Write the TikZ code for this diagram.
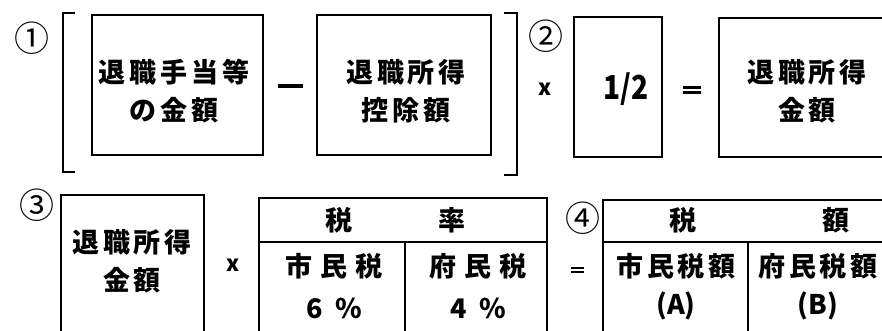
\documentclass[tikz,border=0pt]{standalone}
\usepackage{fontspec}
\setmainfont{Noto Sans CJK JP}
\newfontfamily\jp[LetterSpace=14]{Noto Sans CJK JP}
\newfontfamily\jpw[LetterSpace=30]{Noto Sans CJK JP}
\newfontfamily\jpn{Noto Sans CJK JP}
\tikzset{
  box/.style={draw=black, line width=2.6pt, fill=none, inner sep=0pt},
  lbl/.style={font=\jp\bfseries\fontsize{27}{38}\selectfont, align=center, inner sep=0pt, text=black},
  tlbl/.style={font=\jpw\bfseries\fontsize{27}{42}\selectfont, align=center, inner sep=0pt, text=black},
  circ/.style={font=\jpn\fontsize{35}{35}\selectfont, inner sep=0pt, text=black},
  op/.style={font=\jpn\bfseries\fontsize{22}{22}\selectfont, inner sep=0pt, text=black, align=center},
  tline/.style={draw=black, line width=2.2pt},
  brk/.style={draw=black, line width=2.8pt},
}
\begin{document}
\begin{tikzpicture}[x=1pt,y=-1pt]
\useasboundingbox (0,0) rectangle (882,331);
\clip (0,0) rectangle (882,331);
\fill[white] (0,0) rectangle (882,331);

% row 1
\node[circ] (c1) at (32,38) {①};
\coordinate (lbt) at (75,13);
\coordinate (lbb) at (75,172);
\draw[brk] (lbt) -- (63,13) -- (63,172) -- (lbb);

\node[box, minimum width=171, minimum height=140] (b1) at (177.5,85) {};
\node[lbl] (t1) at (174,91) {退職手当等\\の金額};

\node[op] (minus) at (290,86) {\rule{25pt}{3.2pt}};

\node[box, minimum width=174, minimum height=140] (b2) at (404,85) {};
\node[lbl] (t2) at (406,91) {退職所得\\控除額};

\coordinate (rbt) at (504,13);
\coordinate (rbb) at (504,175);
\draw[brk] (rbt) -- (517,13) -- (517,175) -- (rbb);

\node[circ] (c2) at (546,36) {②};
\node[op] (x1) at (545,89) {x};

\node[box, minimum width=88, minimum height=140] (bh) at (618,87) {};
\node[op, font=\jpn\bfseries\fontsize{33}{33}\selectfont, xscale=0.85] (half) at (626,89) {1/2};

\node[op] (eq1) at (692,90) {\rule{18pt}{2.2pt}\\[-17pt]\rule{18pt}{2.2pt}};

\node[box, minimum width=175, minimum height=139] (br) at (806.5,87.5) {};
\node[lbl] (tr) at (807,91) {退職所得\\金額};

% row 2
\node[circ] (c3) at (37,205) {③};
\node[box, minimum width=143, minimum height=150] (b3) at (132.5,270) {};
\node[lbl] (t3) at (132,261) {退職所得\\金額};

\node[op] (x2) at (233,265) {x};

% table 1
\coordinate (a1) at (259,198);
\coordinate (a2) at (547,198);
\coordinate (a3) at (259,345);
\coordinate (a4) at (547,345);
\coordinate (ah1) at (259,242);
\coordinate (ah2) at (547,242);
\coordinate (ad1) at (405,242);
\coordinate (ad2) at (405,345);
\draw[tline] (a3) -- (a1) -- (a2) -- (a4);
\draw[tline] (ah1) -- (ah2);
\draw[tline] (ad1) -- (ad2);
\node[lbl] (h1a) at (339,220) {税};
\node[lbl] (h1b) at (452,220) {率};
\node[tlbl] (r1a) at (334,286) {市民税\\\jpn 6\ \ \%};
\node[tlbl] (r1b) at (478,286) {府民税\\\jpn 4\ \ \%};

\node[circ] (c4) at (583,218) {④};
\node[op] (eq2) at (577,270) {\rule{13pt}{2pt}\\[-18pt]\rule{13pt}{2pt}};

% table 2
\coordinate (e1) at (603,200);
\coordinate (e2) at (900,200);
\coordinate (e3) at (603,345);
\coordinate (eh1) at (603,242);
\coordinate (eh2) at (900,242);
\coordinate (ed1) at (748,242);
\coordinate (ed2) at (748,345);
\draw[tline] (e3) -- (e1) -- (e2);
\draw[tline] (eh1) -- (eh2);
\draw[tline] (ed1) -- (ed2);
\node[lbl] (h2a) at (683,220) {税};
\node[lbl] (h2b) at (836,220) {額};
\node[lbl] (r2a) at (676,287) {市民税額\\\jpn(A)};
\node[lbl] (r2b) at (818,287) {府民税額\\\jpn(B)};
\end{tikzpicture}
\end{document}
